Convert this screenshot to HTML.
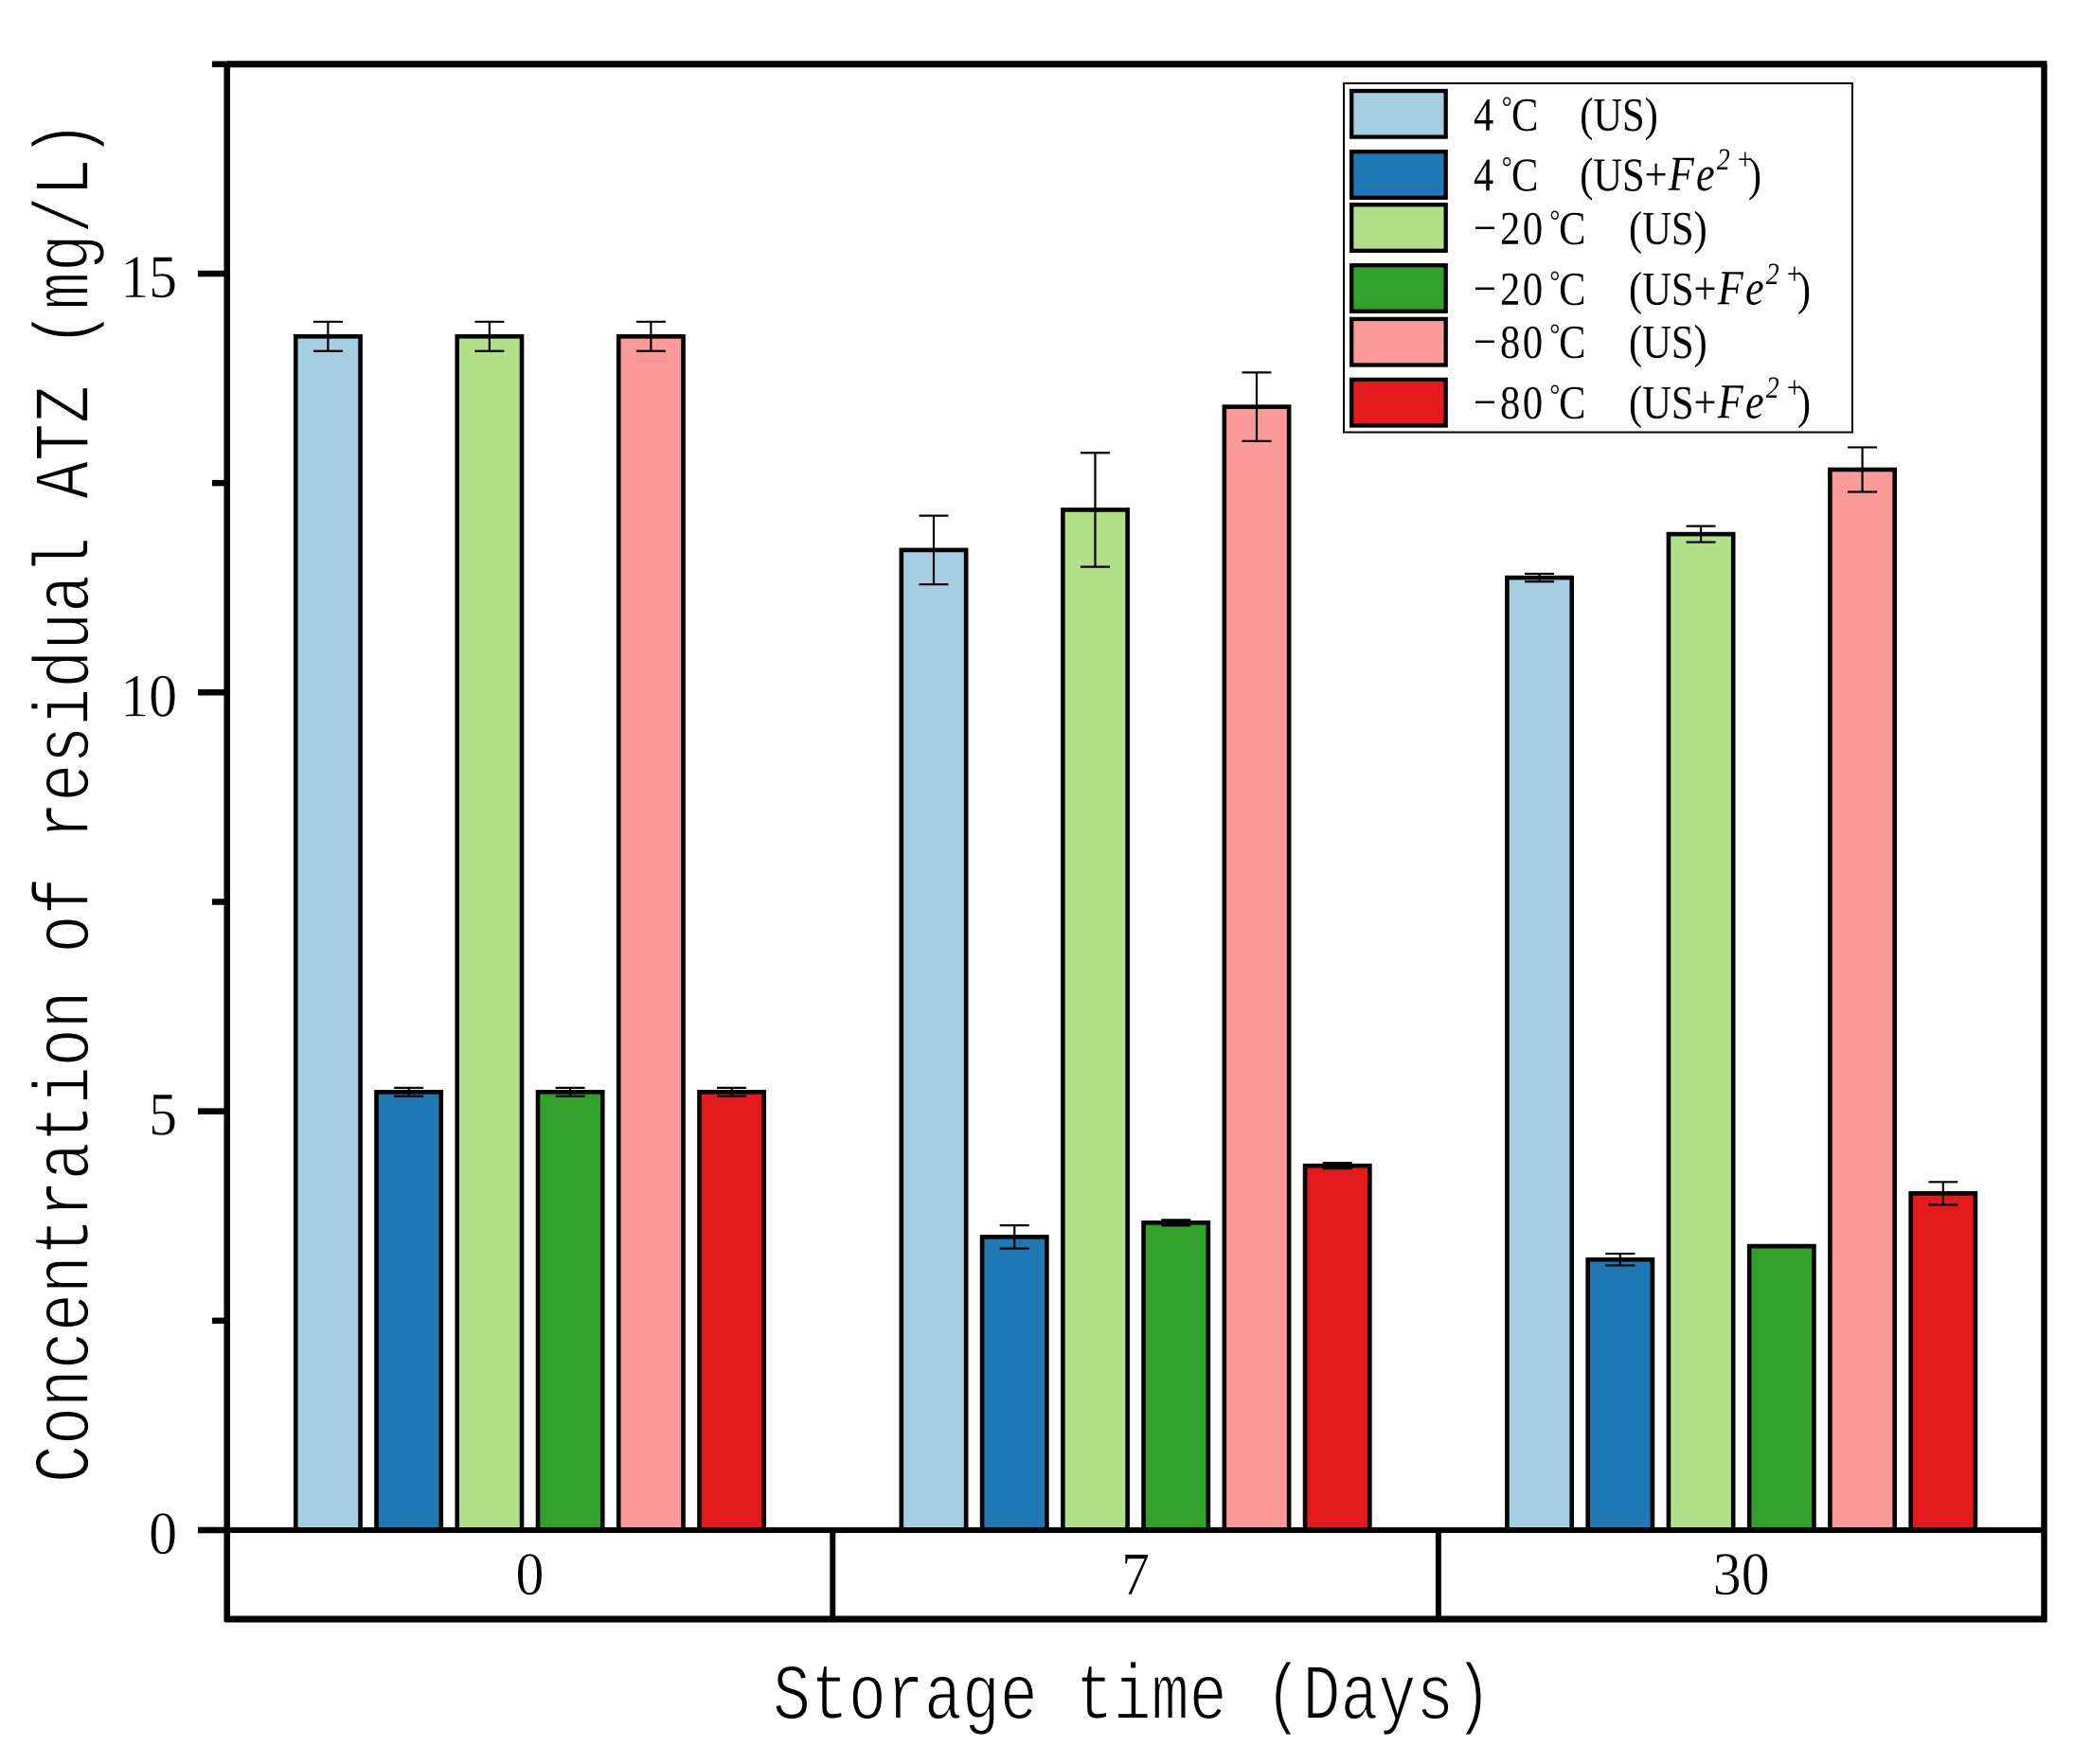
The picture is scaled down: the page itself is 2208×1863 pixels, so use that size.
<!DOCTYPE html>
<html lang="en">
<head>
<meta charset="utf-8">
<title>Concentration of residual ATZ</title>
<style>
html,body{margin:0;padding:0;background:#fff;}
svg{display:block;}
.title{font-family:"Liberation Mono",monospace;font-size:66.6px;fill:#000;stroke:#fff;stroke-width:1.4px;}
.tick{font-family:"Liberation Serif",serif;font-size:65px;fill:#000;stroke:#fff;stroke-width:.5px;}
.leg{font-family:"Liberation Serif",serif;font-size:50px;fill:#000;}
.deg{font-size:32px;}
.it{font-style:italic;font-size:52px;}
.sup{font-style:italic;font-size:33px;}
</style>
</head>
<body>
<svg id="chart" xmlns="http://www.w3.org/2000/svg" width="2208" height="1863" viewBox="0 0 2208 1863">
<rect x="0" y="0" width="2208" height="1863" fill="#fff"/>
<g id="bars"></g>
<g id="axes"></g>
<text class="title" transform="translate(93,1566) rotate(-90) scale(1,1.26)" x="0" y="0">Concentration of residual ATZ (mg/L)</text>
<text class="title" transform="translate(816,1815) scale(1,1.26)" x="0" y="0">Storage time (Days)</text>
<g>
<rect x="1419" y="88" width="537" height="368.5" fill="#fff" stroke="#000" stroke-width="2"/>
<rect x="1427.2" y="96" width="99.5" height="48.6" fill="#a6cee3" stroke="#000" stroke-width="4.3"/>
<rect x="1427.2" y="160.2" width="99.5" height="48.6" fill="#1f78b4" stroke="#000" stroke-width="4.3"/>
<rect x="1427.2" y="216.2" width="99.5" height="48.6" fill="#b2df8a" stroke="#000" stroke-width="4.3"/>
<rect x="1427.2" y="280.2" width="99.5" height="48.6" fill="#33a02c" stroke="#000" stroke-width="4.3"/>
<rect x="1427.2" y="336.9" width="99.5" height="48.6" fill="#fb9a99" stroke="#000" stroke-width="4.3"/>
<rect x="1427.2" y="400.9" width="99.5" height="48.6" fill="#e31a1c" stroke="#000" stroke-width="4.3"/>
<text class="leg" transform="translate(1556,137.5) scale(.85,1)"><tspan x="0">4</tspan><tspan class="deg" x="35" y="-14">°</tspan><tspan x="47" y="0">C</tspan><tspan x="132">(US)</tspan></text>
<text class="leg" transform="translate(1556,200.9) scale(.85,1)"><tspan x="0">4</tspan><tspan class="deg" x="35" y="-14">°</tspan><tspan x="47" y="0">C</tspan><tspan x="132">(US+</tspan><tspan class="it" x="242 276.5">Fe</tspan><tspan class="sup" x="302" y="-21.7">2</tspan><tspan class="sup" x="326" y="-21.7">+</tspan><tspan x="341" y="0">)</tspan></text>
<text class="leg" transform="translate(1556,257.5) scale(.85,1)"><tspan x="0">−</tspan><tspan x="33 61">20</tspan><tspan class="deg" x="94.6" y="-14">°</tspan><tspan x="106" y="0">C</tspan><tspan x="193">(US)</tspan></text>
<text class="leg" transform="translate(1556,321.5) scale(.85,1)"><tspan x="0">−</tspan><tspan x="33 61">20</tspan><tspan class="deg" x="94.6" y="-14">°</tspan><tspan x="106" y="0">C</tspan><tspan x="193">(US+</tspan><tspan class="it" x="303.2 337.7">Fe</tspan><tspan class="sup" x="363.2" y="-21.7">2</tspan><tspan class="sup" x="387.2" y="-21.7">+</tspan><tspan x="402.2" y="0">)</tspan></text>
<text class="leg" transform="translate(1556,377.5) scale(.85,1)"><tspan x="0">−</tspan><tspan x="33 61">80</tspan><tspan class="deg" x="94.6" y="-14">°</tspan><tspan x="106" y="0">C</tspan><tspan x="193">(US)</tspan></text>
<text class="leg" transform="translate(1556,441.5) scale(.85,1)"><tspan x="0">−</tspan><tspan x="33 61">80</tspan><tspan class="deg" x="94.6" y="-14">°</tspan><tspan x="106" y="0">C</tspan><tspan x="193">(US+</tspan><tspan class="it" x="303.2 337.7">Fe</tspan><tspan class="sup" x="363.2" y="-21.7">2</tspan><tspan class="sup" x="387.2" y="-21.7">+</tspan><tspan x="402.2" y="0">)</tspan></text>
</g>
</svg>
<script>
const categories = ['0', '7', '30'];
const seriesKeys = ['4c-us', '4c-us-fe', 'minus20c-us', 'minus20c-us-fe', 'minus80c-us', 'minus80c-us-fe'];
const values4cUS = [14.25, 11.70, 11.37];
const values4cFe = [5.23, 3.50, 3.23];
const valuesM20cUS = [14.25, 12.18, 11.89];
const valuesM20cFe = [5.23, 3.67, 3.39];
const valuesM80cUS = [14.25, 13.41, 12.66];
const valuesM80cFe = [5.23, 4.35, 4.02];
const errors4cUS = [0.175, 0.41, 0.047];
const errors4cFe = [0.05, 0.138, 0.07];
const errorsM20cUS = [0.175, 0.68, 0.096];
const errorsM20cFe = [0.05, 0.034, 0.012];
const errorsM80cUS = [0.175, 0.41, 0.266];
const errorsM80cFe = [0.05, 0.034, 0.136];
const majorTicks = [0, 5, 10, 15];
const majorTickLabels = ['0', '5', '10', '15'];
const minorTicks = [2.5, 7.5, 12.5, 17.5];

const seriesValues = [values4cUS, values4cFe, valuesM20cUS, valuesM20cFe, valuesM80cUS, valuesM80cFe];
const seriesErrors = [errors4cUS, errors4cFe, errorsM20cUS, errorsM20cFe, errorsM80cUS, errorsM80cFe];
const seriesColors = ['#a6cee3', '#1f78b4', '#b2df8a', '#33a02c', '#fb9a99', '#e31a1c'];

const NS = 'http://www.w3.org/2000/svg';
const plotLeft = 239.7, plotRight = 2158.5, baseY = 1616, boxBottom = 1710;
const pxPerUnit = 88.47, barStep = 85.25, barWidth = 68.3, capHalf = 15.5;
const groupWidth = (plotRight - plotLeft) / categories.length;
function yScale(v) { return baseY - v * pxPerUnit; }
function groupCenter(g) { return plotLeft + groupWidth * (g + 0.5); }
function xScale(g, s) { return groupCenter(g) + (s - (seriesValues.length - 1) / 2) * barStep; }
function make(parent, tag, attrs, text) {
  const el = document.createElementNS(NS, tag);
  for (const k in attrs) el.setAttribute(k, attrs[k]);
  if (text !== undefined) el.textContent = text;
  parent.appendChild(el);
  return el;
}
const barsG = document.getElementById('bars');
const axesG = document.getElementById('axes');

seriesValues.forEach(function (vals, s) {
  vals.forEach(function (v, g) {
    const cx = xScale(g, s);
    const top = yScale(v);
    const bar = make(barsG, 'rect', { x: cx - barWidth / 2, y: top, width: barWidth, height: baseY - top, fill: seriesColors[s], stroke: '#000', 'stroke-width': 4.6 });
    
    
    const e = seriesErrors[s][g];
    const hi = yScale(v + e), lo = yScale(v - e);
    const stem = make(barsG, 'line', { x1: cx, x2: cx, y1: hi, y2: lo, stroke: '#000', 'stroke-width': 2.2 });
    
    
    const capTop = make(barsG, 'line', { x1: cx - capHalf, x2: cx + capHalf, y1: hi, y2: hi, stroke: '#000', 'stroke-width': 2.2 });
    
    
    const capBottom = make(barsG, 'line', { x1: cx - capHalf, x2: cx + capHalf, y1: lo, y2: lo, stroke: '#000', 'stroke-width': 2.2 });
    
    
  });
});

const topY = yScale(17.5);
const leftSpine = make(axesG, 'line', { x1: plotLeft, x2: plotLeft, y1: topY, y2: boxBottom + 3, stroke: '#000', 'stroke-width': 6.5 });


const rightSpine = make(axesG, 'line', { x1: plotRight, x2: plotRight, y1: topY, y2: boxBottom + 3, stroke: '#000', 'stroke-width': 6.5 });


const topSpine = make(axesG, 'line', { x1: plotLeft, x2: plotRight + 3, y1: topY, y2: topY, stroke: '#000', 'stroke-width': 7 });


const baseLine = make(axesG, 'line', { x1: plotLeft, x2: plotRight + 3, y1: baseY, y2: baseY, stroke: '#000', 'stroke-width': 6 });


const boxLine = make(axesG, 'line', { x1: plotLeft - 2, x2: plotRight + 3, y1: boxBottom, y2: boxBottom, stroke: '#000', 'stroke-width': 7 });



for (let g = 1; g < categories.length; g++) {
  const dx = plotLeft + groupWidth * g;
  const divider = make(axesG, 'line', { x1: dx, x2: dx, y1: baseY, y2: boxBottom, stroke: '#000', 'stroke-width': 6 });
  
  
}
categories.forEach(function (c, g) {
  const label = make(axesG, 'text', { class: 'tick', 'text-anchor': 'middle', transform: 'translate(' + groupCenter(g) + ',1684) scale(.92,1)' }, c);
  
  
});
majorTicks.forEach(function (t, i) {
  const y = yScale(t);
  const tick = make(axesG, 'line', { x1: 209, x2: plotLeft, y1: y, y2: y, stroke: '#000', 'stroke-width': 6.5 });
  
  
  const label = make(axesG, 'text', { class: 'tick', 'text-anchor': 'end', transform: 'translate(187,' + (y + 25) + ') scale(.92,1)' }, majorTickLabels[i]);
  
  
});
minorTicks.forEach(function (t) {
  const y = yScale(t);
  const tick = make(axesG, 'line', { x1: 224, x2: plotLeft, y1: y, y2: y, stroke: '#000', 'stroke-width': 6.5 });
  
  
});
</script>
</body>
</html>
